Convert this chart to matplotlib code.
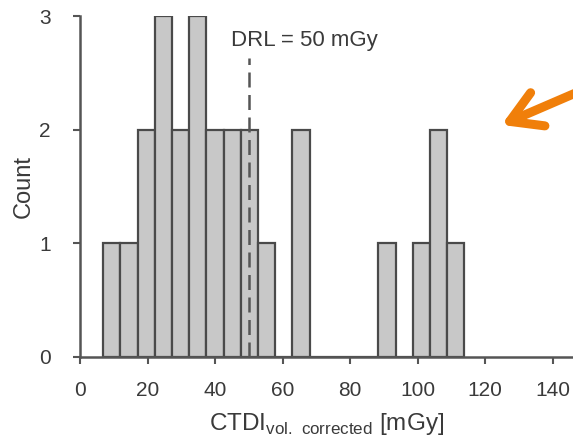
import numpy as np
import matplotlib
matplotlib.use("Agg")
import matplotlib.pyplot as plt
from matplotlib.patches import FancyArrowPatch

# Data: histogram of CTDI values (21 equal bins between min and max)
bin_low = 6.9
bin_high = 113.8
n_bins = 21
counts = [1, 1, 2, 3, 2, 3, 2, 2, 2, 1, 0, 2, 0, 0, 0, 0, 1, 0, 1, 2, 1]
drl_value = 50
drl_label = "DRL = 50 mGy"
x_ticks = [0, 20, 40, 60, 80, 100, 120, 140]
y_ticks = [0, 1, 2, 3]

plt.rcParams['font.family'] = ['Liberation Sans', 'DejaVu Sans']
plt.rcParams['mathtext.fontset'] = 'custom'
plt.rcParams['mathtext.rm'] = 'Liberation Sans'
text_col = "#3a3a3a"
spine_col = "#555555"

fig = plt.figure(figsize=(5.73, 4.43), dpi=100)
ax = fig.add_axes([80/573, 1 - 357/443, 1 - 80/573, (357 - 16)/443])

edges = np.linspace(bin_low, bin_high, n_bins + 1)
ax.hist(edges[:-1], bins=edges, weights=counts, color="#c8c8c8",
        edgecolor="#4a4a4a", linewidth=1.6, zorder=2)

ax.plot([drl_value, drl_value], [0, 2.63], color="#555555", lw=1.8,
        dashes=(6, 3), zorder=3)
ax.text(44.6, 2.785, drl_label, fontsize=16, color=text_col, va="center", ha="left")

ax.set_xlim(0, 146)
ax.set_ylim(0, 3)
ax.set_xticks(x_ticks)
ax.set_yticks(y_ticks)
for s in ["top", "right"]:
    ax.spines[s].set_visible(False)
for s in ["left", "bottom"]:
    ax.spines[s].set_color(spine_col)
    ax.spines[s].set_linewidth(1.8)
ax.tick_params(axis="both", colors=spine_col, width=1.5, length=5,
               labelsize=15, labelcolor=text_col)
ax.tick_params(axis="x", pad=12)
ax.tick_params(axis="y", pad=16)
ax.set_xlabel(r"CTDI$_{\mathregular{vol.\ corrected}}$ [mGy]", fontsize=17.5,
              color=text_col, labelpad=8)
ax.set_ylabel("Count", fontsize=17, color=text_col)
ax.yaxis.set_label_coords(-0.092, 0.5)

fig.add_artist(FancyArrowPatch((615/573, 1 - 76/443), (499/573, 1 - 126/443),
                               transform=fig.transFigure,
                               arrowstyle="->,head_length=22,head_width=13",
                               color="#f07f0a", lw=6.5, capstyle="round",
                               joinstyle="round", mutation_scale=1))

fig.savefig("out.png", dpi=100)
